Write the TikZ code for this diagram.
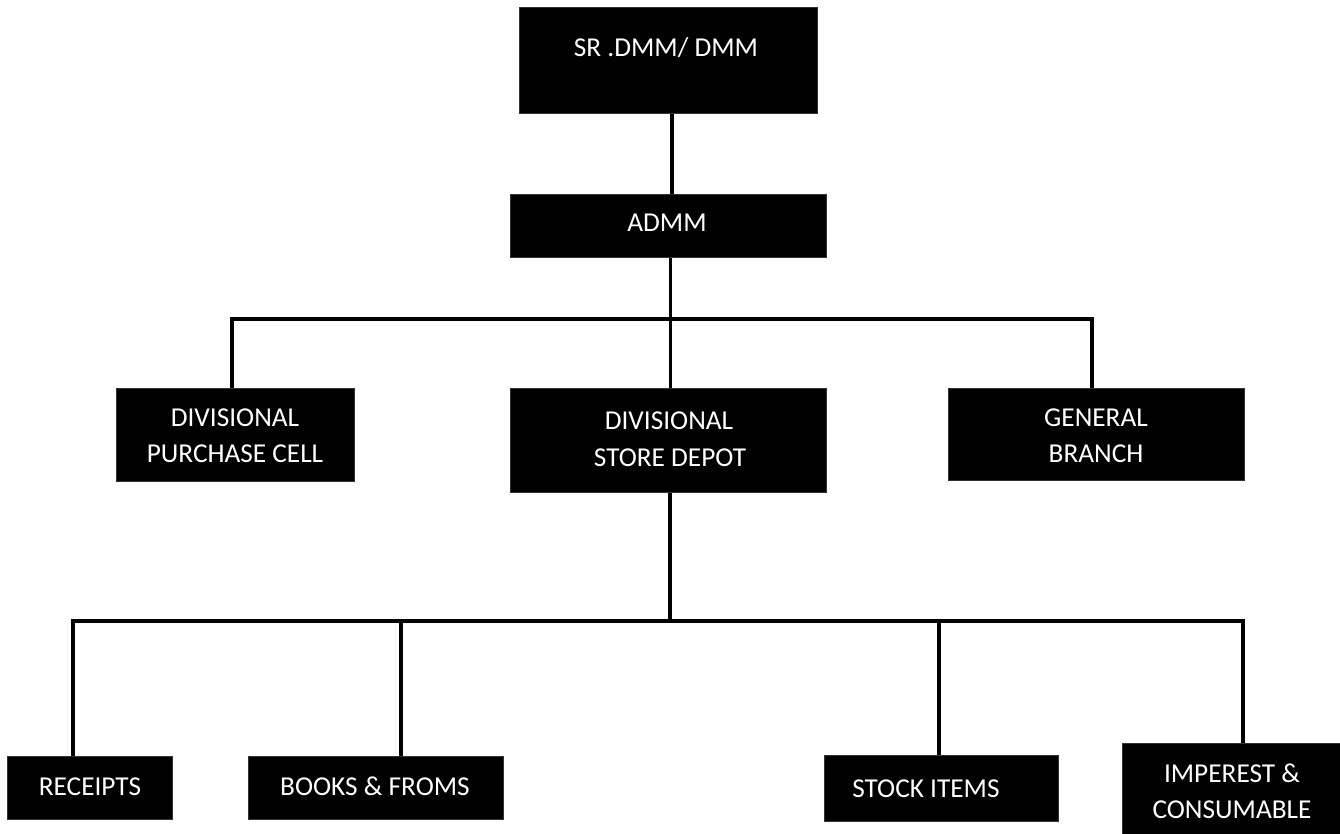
\documentclass[tikz,border=0pt]{standalone}
\usepackage{fontspec}
\setmainfont{Carlito}
\begin{document}
\begin{tikzpicture}[x=1pt,y=-1pt,
  box/.style={fill=black,draw=black!80,line width=0.6pt,inner sep=0pt,anchor=north west},
  lbl/.style={text=white,anchor=base,inner sep=0pt,font=\fontsize{27.3}{27}\selectfont},
  conn/.style={draw=black,line width=3.2pt,line join=miter,line cap=butt}]
\useasboundingbox[fill=white] (0,0) rectangle (1340,834);
\clip (0,0) rectangle (1340,834);
% boxes
\node[box,minimum width=298pt,minimum height=106pt] (sr) at (519,7) {};
\node[box,minimum width=316pt,minimum height=63pt] (admm) at (510,194) {};
\node[box,minimum width=238pt,minimum height=93pt] (pc) at (116,388) {};
\node[box,minimum width=316pt,minimum height=104pt] (sd) at (510,388) {};
\node[box,minimum width=296pt,minimum height=92pt] (gb) at (948,388) {};
\node[box,minimum width=165pt,minimum height=63pt] (rc) at (7,756) {};
\node[box,minimum width=255pt,minimum height=63pt] (bf) at (248,756) {};
\node[box,minimum width=234pt,minimum height=66pt] (si) at (824,755) {};
\node[box,minimum width=222pt,minimum height=95pt] (ic) at (1122,743) {};
% labels
\node[lbl] (srt) at (666,57) {SR .DMM/ DMM};
\node[lbl] (admmt) at (667,232) {ADMM};
\node[lbl] (pct1) at (235,426) {DIVISIONAL};
\node[lbl] (pct2) at (235,462) {PURCHASE CELL};
\node[lbl] (sdt1) at (669,429) {DIVISIONAL};
\node[lbl] (sdt2) at (670,466) {STORE DEPOT};
\node[lbl] (gbt1) at (1096,426) {GENERAL};
\node[lbl] (gbt2) at (1096,462) {BRANCH};
\node[lbl] (rct) at (90,795) {RECEIPTS};
\node[lbl] (bft) at (375,795) {BOOKS \& FROMS};
\node[lbl] (sit) at (926,797) {STOCK ITEMS};
\node[lbl] (ict1) at (1232,782) {IMPEREST \&};
\node[lbl] (ict2) at (1232,818) {CONSUMABLE};
% bus coordinates
\coordinate (s0) at (672,0);
\coordinate (a0) at (670.5,0);
\coordinate (busL) at (232,319);
\coordinate (busR) at (1092,319);
\coordinate (t0) at (670,621);
\coordinate (bus2L) at (73,621);
\coordinate (bus2R) at (1243,621);
\coordinate (t2) at (401,621);
\coordinate (t3) at (939,621);
% connectors
\draw[conn] (sr.south -| s0) -- (admm.north -| s0);
\draw[conn] (admm.south -| a0) -- (sd.north -| a0);
\draw[conn] (pc.north -| busL) |- (busR) -- (gb.north -| busR);
\draw[conn] (sd.south -| t0) -- (t0);
\draw[conn] (rc.north -| bus2L) |- (bus2R) -- (ic.north -| bus2R);
\draw[conn] (t2) -- (bf.north -| t2);
\draw[conn] (t3) -- (si.north -| t3);
\end{tikzpicture}
\end{document}
